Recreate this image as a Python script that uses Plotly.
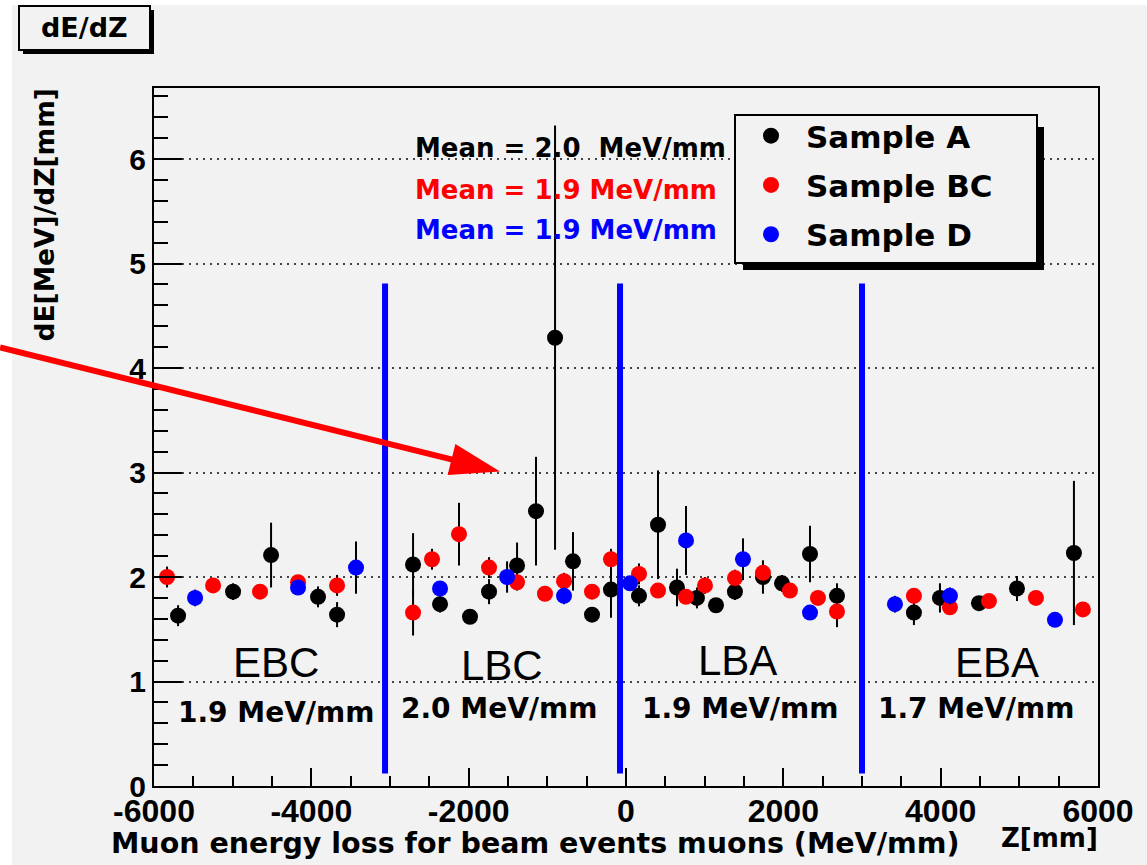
import numpy as np
import plotly.graph_objects as go

# ---------------- data ----------------
z_A = [-5694, -4995, -4512, -3915, -3673,
       -2707, -2364, -1983, -1741, -1385, -1144, -902, -674, -432, -191,
       165, 407, 648, 902, 1144, 1385, 1741, 1983, 2339, 2682,
       3660, 3991, 4487, 4970, 5694]
dedz_A = [1.63, 1.86, 2.21, 1.81, 1.64,
          2.12, 1.74, 1.62, 1.86, 2.11, 2.63, 4.29, 2.15, 1.64, 1.88,
          1.82, 2.50, 1.90, 1.80, 1.73, 1.86, 2.00, 1.94, 2.22, 1.82,
          1.66, 1.80, 1.75, 1.89, 2.23]
err_A = [0.10, 0.08, 0.31, 0.10, 0.12,
         0.30, 0.08, 0.06, 0.12, 0.22, 0.52, 2.03, 0.28, 0.06, 0.27,
         0.10, 0.52, 0.18, 0.10, 0.06, 0.08, 0.16, 0.08, 0.27, 0.12,
         0.12, 0.14, 0.05, 0.12, 0.69]

z_BC = [-5834, -5249, -4652, -4169, -3673,
        -2707, -2466, -2123, -1741, -1385, -1030, -788, -432, -191,
        165, 407, 763, 1004, 1385, 1741, 2084, 2440, 2682,
        3660, 4118, 4614, 5211, 5808]
dedz_BC = [2.00, 1.92, 1.86, 1.95, 1.92,
           1.66, 2.17, 2.41, 2.09, 1.95, 1.84, 1.96, 1.86, 2.17,
           2.03, 1.87, 1.81, 1.92, 1.99, 2.04, 1.87, 1.80, 1.67,
           1.82, 1.71, 1.77, 1.80, 1.69]
err_BC = [0.10, 0.06, 0.05, 0.06, 0.10,
          0.22, 0.10, 0.30, 0.10, 0.08, 0.05, 0.08, 0.05, 0.10,
          0.10, 0.05, 0.05, 0.08, 0.08, 0.08, 0.05, 0.05, 0.15,
          0.06, 0.06, 0.05, 0.05, 0.06]

z_D = [-5478, -4169, -3432, -2364, -1512, -788, 51, 763, 1487, 2339, 3419, 4118, 5453]
dedz_D = [1.80, 1.90, 2.09, 1.89, 2.00, 1.82, 1.94, 2.35, 2.17, 1.66, 1.74, 1.82, 1.59]
err_D = [0.08, 0.06, 0.25, 0.06, 0.15, 0.08, 0.05, 0.33, 0.20, 0.06, 0.08, 0.08, 0.06]

series_names = ["Sample A", "Sample BC", "Sample D"]
series_colors = ["#000000", "#ff0000", "#0000ff"]

x_tickvals = [-6000, -4000, -2000, 0, 2000, 4000, 6000]
x_ticktext = ["-6000", "-4000", "-2000", "0", "2000", "4000", "6000"]
y_tickvals = [0, 1, 2, 3, 4, 5, 6]
y_ticktext = ["0", "1", "2", "3", "4", "5", "6"]

divider_z = [-3063, -76, 3000]
divider_y = [0.12, 4.81]

region_names = ["EBC", "LBC", "LBA", "EBA"]
region_name_z = [-4449, -1570, 1411, 4716]
region_name_y = [1.18, 1.15, 1.20, 1.18]
region_means = ["1.9 MeV/mm", "2.0 MeV/mm", "1.9 MeV/mm", "1.7 MeV/mm"]
region_mean_z = [-4449, -1614, 1449, 4449]
region_mean_y = [0.70, 0.74, 0.74, 0.74]

mean_texts = ["Mean = 2.0  MeV/mm", "Mean = 1.9 MeV/mm", "Mean = 1.9 MeV/mm"]
mean_text_z = -2707
mean_text_y = [6.11, 5.70, 5.32]

arrow_tip = (-1601, 3.01)

X_RANGE = [-6000, 6000]
Y_RANGE = [0, 6.68]

# ---------------- layout geometry (pixels) ----------------
W, H = 1147, 865
ML, MR, MT, MB = 154, 49, 88, 79
PW = W - ML - MR
PH = H - MT - MB

def pxx(px):
    return (px - ML) / PW

def pxy(py):
    return (H - MB - py) / PH

def d2px(z):
    return (z - X_RANGE[0]) / (X_RANGE[1] - X_RANGE[0])

def d2py(y):
    return (y - Y_RANGE[0]) / (Y_RANGE[1] - Y_RANGE[0])

BG = "#f2f2f2"
BOLD = "DejaVu Sans"
REG = "Liberation Sans, Arial, sans-serif"

fig = go.Figure()

for name, col, zs, ys, es in zip(series_names, series_colors,
                                  [z_A, z_BC, z_D], [dedz_A, dedz_BC, dedz_D],
                                  [err_A, err_BC, err_D]):
    fig.add_trace(go.Scatter(
        x=zs, y=ys, mode="markers", name=name, legendgroup=name,
        marker=dict(color=col, size=16, symbol="circle", line=dict(width=0)),
        error_y=dict(type="data", array=es, visible=True, color="#000000",
                     thickness=2, width=0),
    ))

shapes = []
# white margins at very top / left
shapes.append(dict(type="rect", xref="paper", yref="paper", x0=pxx(-5), x1=pxx(12),
                   y0=pxy(H + 5), y1=pxy(-5), fillcolor="white", line=dict(width=0), layer="below"))
shapes.append(dict(type="rect", xref="paper", yref="paper", x0=pxx(-5), x1=pxx(W + 5),
                   y0=pxy(5), y1=pxy(-5), fillcolor="white", line=dict(width=0), layer="below"))

# title box with shadow
shapes.append(dict(type="rect", xref="paper", yref="paper", x0=pxx(23), x1=pxx(154),
                   y0=pxy(54), y1=pxy(10), fillcolor="#000000", line=dict(width=0)))
shapes.append(dict(type="rect", xref="paper", yref="paper", x0=pxx(19), x1=pxx(150),
                   y0=pxy(50), y1=pxy(6), fillcolor=BG, line=dict(color="#000000", width=2)))

# legend box with shadow
shapes.append(dict(type="rect", xref="paper", yref="paper", x0=pxx(743), x1=pxx(1044),
                   y0=pxy(270), y1=pxy(127), fillcolor="#000000", line=dict(width=0)))
shapes.append(dict(type="rect", xref="paper", yref="paper", x0=pxx(735), x1=pxx(1037),
                   y0=pxy(263), y1=pxy(115), fillcolor=BG, line=dict(color="#000000", width=2)))

# region dividers
for zd in divider_z:
    shapes.append(dict(type="line", xref="x", yref="y", x0=zd, x1=zd,
                       y0=divider_y[0], y1=divider_y[1],
                       line=dict(color="#0000ff", width=6)))

# red arrow (line + head), anchored at the tip
tipx, tipy = d2px(arrow_tip[0]), d2py(arrow_tip[1])
start = np.array([-500.0, 124.0])
direction = -start / np.linalg.norm(start)
perp = np.array([-direction[1], direction[0]])
head_len, head_half = 50.0, 16.0
base = -direction * head_len
shapes.append(dict(type="line", xref="paper", yref="paper", xsizemode="pixel", ysizemode="pixel",
                   xanchor=tipx, yanchor=tipy, x0=start[0], y0=start[1],
                   x1=base[0] + direction[0] * 4, y1=base[1] + direction[1] * 4,
                   line=dict(color="#ff0000", width=6)))
c1 = base + perp * head_half
c2 = base - perp * head_half
shapes.append(dict(type="path", xref="paper", yref="paper", xsizemode="pixel", ysizemode="pixel",
                   xanchor=tipx, yanchor=tipy,
                   path=f"M0,0 L{c1[0]:.1f},{c1[1]:.1f} L{c2[0]:.1f},{c2[1]:.1f} Z",
                   fillcolor="#ff0000", line=dict(width=0)))

annotations = []
annotations.append(dict(text="dE/dZ", xref="paper", yref="paper", x=pxx(84.5), y=pxy(28),
                        xanchor="center", yanchor="middle", showarrow=False,
                        font=dict(family=BOLD, size=27, color="#000000", weight="bold")))
annotations.append(dict(text="dE[MeV]/dZ[mm]", xref="paper", yref="paper", x=pxx(44), y=pxy(87),
                        xanchor="center", yanchor="top", textangle=-90, showarrow=False,
                        font=dict(family=BOLD, size=26.5, color="#000000", weight="bold")))
annotations.append(dict(text="Muon energy loss for beam events muons (MeV/mm)", xref="paper", yref="paper",
                        x=pxx(109), y=pxy(843), xanchor="left", yanchor="middle", showarrow=False,
                        font=dict(family=BOLD, size=28.5, color="#000000", weight="bold")))
annotations.append(dict(text="Z[mm]", xref="paper", yref="paper", x=pxx(1100), y=pxy(838),
                        xanchor="right", yanchor="middle", showarrow=False,
                        font=dict(family=BOLD, size=26, color="#000000", weight="bold")))

for t, yv, col in zip(mean_texts, mean_text_y, series_colors):
    annotations.append(dict(text=t, x=mean_text_z, y=yv, xref="x", yref="y", xanchor="left",
                            yanchor="middle", showarrow=False,
                            font=dict(family=BOLD, size=26, color=col, weight="bold")))

for t, zx, yv in zip(region_names, region_name_z, region_name_y):
    annotations.append(dict(text=t, x=zx, y=yv, xref="x", yref="y", xanchor="center",
                            yanchor="middle", showarrow=False,
                            font=dict(family=REG, size=42, color="#000000")))
for t, zx, yv in zip(region_means, region_mean_z, region_mean_y):
    annotations.append(dict(text=t, x=zx, y=yv, xref="x", yref="y", xanchor="center",
                            yanchor="middle", showarrow=False,
                            font=dict(family=BOLD, size=28, color="#000000", weight="bold")))

GRID_DASH = "2px,5px"

fig.update_layout(
    width=W, height=H,
    margin=dict(l=ML, r=MR, t=MT, b=MB, pad=0),
    paper_bgcolor=BG, plot_bgcolor=BG,
    shapes=shapes, annotations=annotations,
    showlegend=True,
    legend=dict(x=pxx(736), y=pxy(109), xanchor="left", yanchor="top",
                bgcolor="rgba(0,0,0,0)", borderwidth=0,
                font=dict(family=BOLD, size=31, color="#000000", weight="bold"),
                itemwidth=60, tracegroupgap=6, traceorder="grouped"),
    xaxis=dict(range=X_RANGE, showgrid=False, zeroline=False,
               showline=True, linecolor="#000000", linewidth=2, mirror=True,
               ticks="inside", ticklen=18, tickwidth=2, tickcolor="#000000",
               tickmode="array", tickvals=x_tickvals, ticktext=x_ticktext,
               ticklabelstandoff=-4,
               minor=dict(ticks="inside", ticklen=10, tickwidth=2, tickcolor="#000000",
                          dtick=500, showgrid=False),
               tickfont=dict(family=REG, size=32, color="#000000", weight="bold")),
    yaxis=dict(range=Y_RANGE, showgrid=True, gridcolor="#444444", griddash=GRID_DASH, gridwidth=2,
               zeroline=False, showline=True, linecolor="#000000", linewidth=2, mirror=True,
               ticks="inside", ticklen=28, tickwidth=2, tickcolor="#000000",
               tickmode="array", tickvals=y_tickvals, ticktext=y_ticktext,
               minor=dict(ticks="inside", ticklen=14, tickwidth=2, tickcolor="#000000",
                          dtick=0.2, showgrid=False),
               tickfont=dict(family=REG, size=30, color="#000000", weight="bold")),
)

fig.write_html("out.html", config={"displayModeBar": False},
               post_script="document.body.style.margin='0';document.body.style.overflow='hidden';")
